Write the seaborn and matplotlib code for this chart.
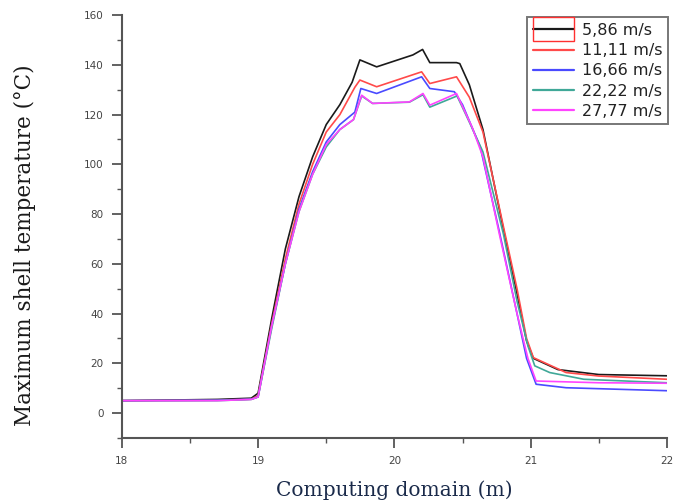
import numpy as np
import pandas as pd
import matplotlib
matplotlib.use("Agg")
import matplotlib.pyplot as plt
from matplotlib.patches import Rectangle
from matplotlib.ticker import MultipleLocator
import seaborn as sns

# Air velocities (legend labels)
labels = ["5,86 m/s", "11,11 m/s", "16,66 m/s", "22,22 m/s", "27,77 m/s"]

# Position along the computing domain (m) and maximum shell temperature (°C)
x_586 = [18.0, 18.7, 18.95, 19.0, 19.1, 19.2, 19.3, 19.4, 19.5, 19.6, 19.69, 19.747,
         19.87, 20.136, 20.207, 20.26, 20.456, 20.48, 20.55, 20.65, 20.8, 20.9, 20.97,
         21.02, 21.2, 21.5, 22.0]
t_586 = [5.0, 5.5, 6.0, 8.0, 38.0, 66.0, 87.0, 103.0, 116.0, 124.0, 133.0, 142.0,
         139.2, 144.0, 146.2, 140.9, 140.9, 140.5, 132.0, 114.0, 74.0, 48.0, 29.0,
         22.0, 17.5, 15.5, 15.0]

x_1111 = [18.0, 18.7, 18.95, 19.0, 19.1, 19.2, 19.3, 19.4, 19.5, 19.6, 19.71, 19.747,
          19.87, 20.2, 20.26, 20.456, 20.55, 20.65, 20.8, 20.9, 20.97, 21.02, 21.26,
          21.5, 22.0]
t_1111 = [5.0, 5.2, 5.6, 7.0, 36.0, 62.0, 84.0, 100.0, 113.0, 120.0, 131.0, 133.9,
          131.2, 137.2, 132.5, 135.2, 127.0, 113.0, 75.0, 50.0, 30.0, 22.3, 16.3,
          14.9, 13.6]

x_1666 = [18.0, 18.7, 18.95, 19.0, 19.1, 19.2, 19.3, 19.4, 19.5, 19.6, 19.71, 19.754,
          19.87, 20.2, 20.26, 20.44, 20.5, 20.63, 20.77, 20.9, 20.97, 21.04, 21.26,
          22.0]
t_1666 = [5.0, 5.2, 5.6, 6.5, 35.0, 60.0, 82.0, 97.0, 109.0, 116.0, 121.0, 130.5,
          128.5, 135.2, 130.5, 129.2, 124.0, 107.0, 73.0, 40.0, 22.0, 11.6, 10.2,
          9.0]

x_2222 = [18.0, 18.7, 18.95, 19.0, 19.1, 19.2, 19.3, 19.4, 19.5, 19.6, 19.7, 19.76,
          19.84, 20.11, 20.21, 20.26, 20.46, 20.55, 20.65, 20.8, 20.9, 20.98, 21.03,
          21.14, 21.39, 22.0]
t_2222 = [5.0, 5.0, 5.5, 6.5, 34.0, 60.0, 81.0, 96.0, 107.0, 114.0, 118.0, 127.5,
          124.5, 125.0, 128.0, 123.0, 127.5, 117.0, 105.0, 72.0, 45.0, 27.0, 19.0,
          16.3, 13.6, 12.2]

x_2777 = [18.0, 18.7, 18.95, 19.0, 19.1, 19.2, 19.3, 19.4, 19.5, 19.6, 19.7, 19.76,
          19.84, 20.11, 20.21, 20.26, 20.456, 20.57, 20.65, 20.77, 20.9, 20.98, 21.04,
          21.5, 22.0]
t_2777 = [5.0, 5.0, 5.5, 6.5, 35.0, 60.0, 81.0, 96.0, 108.0, 114.0, 118.0, 127.8,
          124.5, 125.1, 128.5, 123.8, 128.5, 115.0, 103.0, 72.0, 40.0, 22.0, 12.9,
          12.2, 12.0]

xs = [x_586, x_1111, x_1666, x_2222, x_2777]
ts = [t_586, t_1111, t_1666, t_2222, t_2777]
colors = ["#1a1a1a", "#ff4a4a", "#4a4aff", "#40a898", "#ff44ff"]

df = pd.concat(
    [pd.DataFrame({"x": x, "T": t, "speed": lab})
     for x, t, lab in zip(xs, ts, labels)],
    ignore_index=True,
)

sns.set_theme(style="white")
plt.rcParams["font.family"] = ["DejaVu Sans"]

fig = plt.figure(figsize=(6.73, 5.04), dpi=100)
ax = fig.add_axes([0.181, 0.131, 0.810, 0.839])

sns.lineplot(data=df, x="x", y="T", hue="speed", hue_order=labels,
             palette=dict(zip(labels, colors)), sort=False, estimator=None,
             units="speed", linewidth=1.2, ax=ax, legend=False)

ax.set_xlim(18, 22)
ax.set_ylim(-10, 160)
ax.xaxis.set_major_locator(MultipleLocator(1))
ax.xaxis.set_minor_locator(MultipleLocator(0.5))
ax.yaxis.set_minor_locator(MultipleLocator(10))
ax.set_yticks([0, 20, 40, 60, 80, 100, 120, 140, 160])

spine_col = "#555555"
for side in ["top", "right"]:
    ax.spines[side].set_visible(False)
for side in ["left", "bottom"]:
    ax.spines[side].set_color(spine_col)
    ax.spines[side].set_linewidth(1.5)

ax.tick_params(which="major", direction="out", length=7, width=1.3,
               color=spine_col, labelsize=7.5, labelcolor="#444444",
               left=True, bottom=True, pad=6)
ax.tick_params(which="minor", direction="out", length=3.5, width=1.0,
               color=spine_col, left=True, bottom=True)

ax.set_xlabel("Computing domain (m)", family=["DejaVu Serif"], fontsize=14.5,
              color="#1a2a4a")
ax.set_ylabel("Maximum shell temperature (°C)", family=["DejaVu Serif"],
              fontsize=15.5, color="#1a1a1a")
ax.xaxis.set_label_coords(0.5, -0.1)
ax.yaxis.set_label_coords(-0.158, 0.456)

handles = [plt.Line2D([], [], color=c, linewidth=1.6) for c in colors]
leg = ax.legend(handles, labels, loc="upper right", bbox_to_anchor=(1.002, 0.995),
                fontsize=11.5, frameon=True, fancybox=False, edgecolor="#555555",
                handlelength=2.6, handletextpad=0.48, borderpad=0.35,
                labelspacing=0.33, borderaxespad=0.0)
leg.get_frame().set_linewidth(1.4)
for txt in leg.get_texts():
    txt.set_color("#222222")

# red selection box around the first legend key
fig.canvas.draw()
renderer = fig.canvas.get_renderer()
bb = leg.legend_handles[0].get_window_extent(renderer)
inv = fig.transFigure.inverted()
ymid = 0.5 * (bb.y0 + bb.y1)
(x0, y0) = inv.transform((bb.x0, ymid - 12))
(x1, y1) = inv.transform((bb.x1, ymid + 12))
fig.add_artist(Rectangle((x0, y0), x1 - x0, y1 - y0, transform=fig.transFigure,
                         fill=False, edgecolor="#ff3030", linewidth=1.0))

fig.savefig("out.png", dpi=100, facecolor="white")
